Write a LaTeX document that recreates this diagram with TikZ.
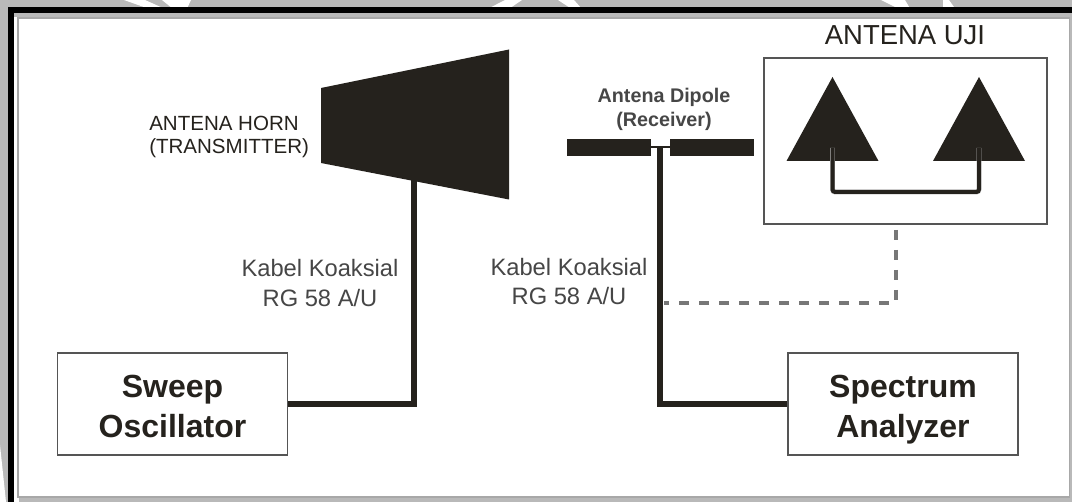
\documentclass[tikz,border=0pt]{standalone}
\usepackage{fontspec}
\setmainfont{Liberation Sans}
\usepackage{xcolor}
\usetikzlibrary{positioning,calc}
\definecolor{ink}{RGB}{37,34,29}
\definecolor{bgGrey}{RGB}{185,185,185}
\definecolor{rim}{RGB}{168,168,168}
\definecolor{boxline}{RGB}{85,85,85}
\definecolor{cableGrey}{RGB}{119,119,119}
\definecolor{labGrey}{RGB}{70,70,70}
\newcommand\boxstrut{\rule{0pt}{25pt}}
\tikzset{
  devbox/.style={draw=boxline,line width=1.1pt,fill=white,minimum width=172.5pt,
    minimum height=76.5pt,inner sep=0pt,align=center,text=ink,
    font=\fontsize{24}{30.5}\selectfont\bfseries},
  cable/.style={draw=ink,line width=3.8pt,line join=miter},
  sigline/.style={draw=cableGrey,line width=2.6pt,dash pattern=on 7.5pt off 7.5pt},
  caption/.style={inner sep=0pt,align=center,text=ink},
  coaxtag/.style={inner sep=0pt,align=center,text=labGrey,
    font=\fontsize{17.8}{22}\selectfont},
  dipolebar/.style={fill=ink,minimum width=63pt,minimum height=12.8pt,inner sep=0pt},
  wmark/.style={fill=white},
}
\begin{document}
\begin{tikzpicture}[x=0.75pt,y=-0.75pt]
  \useasboundingbox (0,0) rectangle (1072,502);
  \fill[bgGrey] (0,0) rectangle (1072,502);
  % watermark scraps round the frame
  \fill[wmark] (124,0) -- (145,0) -- (183,17) -- (172,17) -- cycle;
  \fill[wmark] (162,0) -- (191,0) -- (183,17) -- cycle;
  \fill[wmark] (472,17) -- (505,0) -- (522,0) -- (497,17) -- cycle;
  \fill[wmark] (558,0) -- (574,0) -- (589,17) -- (584,17) -- cycle;
  \fill[wmark] (881,0) -- (905,0) -- (915,17) -- cycle;
  \fill[wmark] (943,0) -- (949,0) -- (961,17) -- (943,17) -- cycle;
  \fill[wmark] (0,445) -- (6,502) -- (0,502) -- cycle;
  \foreach \x/\w in {355/6,366/6,430/22,497/8,512/8,528/8,545/10,600/16,640/6,655/6,668/10,730/5} {
    \fill[wmark] (\x,498) rectangle ++(\w,4);
  }
  % frame
  \fill[white] (14,13) rectangle (1069,502);
  \fill[bgGrey] (14,13) rectangle (1072,17);
  \fill[black] (8,7) rectangle (1072,13);
  \fill[black] (8,7) rectangle (14,502);
  \fill[bgGrey] (19,498) rectangle (1072,502);
  \draw[rim,line width=1.3pt,fill=white] (18,18) rectangle (1069.5,497);

  % horn
  \fill[ink] (321,88) -- (509,49.5) -- (509,199.5) -- (321,163) -- cycle;
  \coordinate (hornfeed) at (414,178);
  \node[caption,anchor=west,font=\fontsize{15.4}{17}\selectfont,align=left] (hornlab) at (149,137) {ANTENA HORN\\(TRANSMITTER)};

  % devices
  \node[devbox] (sweep) at (172.5,404) {\boxstrut Sweep\\Oscillator\vphantom{y}};
  \node[devbox] (spectrum) at (903,404) {\boxstrut Spectrum\\Analyzer};

  % dipole
  \node[dipolebar] (dipoleL) at (609,147.5) {};
  \node[dipolebar] (dipoleR) at (712,147.5) {};
  \coordinate (dipolefeed) at (660,147.5);
  \draw[ink,line width=1.5pt] (dipoleL) -- (dipoleR);
  \node[caption,text=labGrey,font=\fontsize{14.8}{18}\selectfont\bfseries] (dipolelab) at (664,109) {Antena Dipole\\(Receiver)};

  % test antenna
  \node[draw=boxline,line width=1.1pt,minimum width=212pt,minimum height=124.5pt,inner sep=0pt] (uji) at (905.5,141) {};
  \node[caption,font=\fontsize{20.6}{24}\selectfont] (ujilab) at (905,35) {ANTENA UJI};
  \foreach \n/\x in {L/832.5,R/979} {
    \fill[ink] (\x,77) -- (\x+46,161) -- (\x-46,161) -- cycle;
    \coordinate (feed\n) at (\x,148);
  }
  \coordinate (feedmid) at (905,192);
  \draw[draw=white!70!black,line width=0.35pt,double=ink,double distance=3pt,rounded corners=2pt] (feedL) |- (feedmid) -| (feedR);

  % cables
  \draw[cable] (sweep.east) -| (hornfeed);
  \draw[cable] (spectrum.west) -| (dipolefeed);
  \coordinate (ujidrop) at (896,230);
  \coordinate (dashend) at (664,303);
  \draw[sigline] (ujidrop) |- (dashend);

  \node[coaxtag] (coaxA) at (320,283) {Kabel Koaksial\\RG 58 A/U};
  \node[coaxtag] (coaxB) at (569,281.5) {Kabel Koaksial\\RG 58 A/U};
\end{tikzpicture}
\end{document}
